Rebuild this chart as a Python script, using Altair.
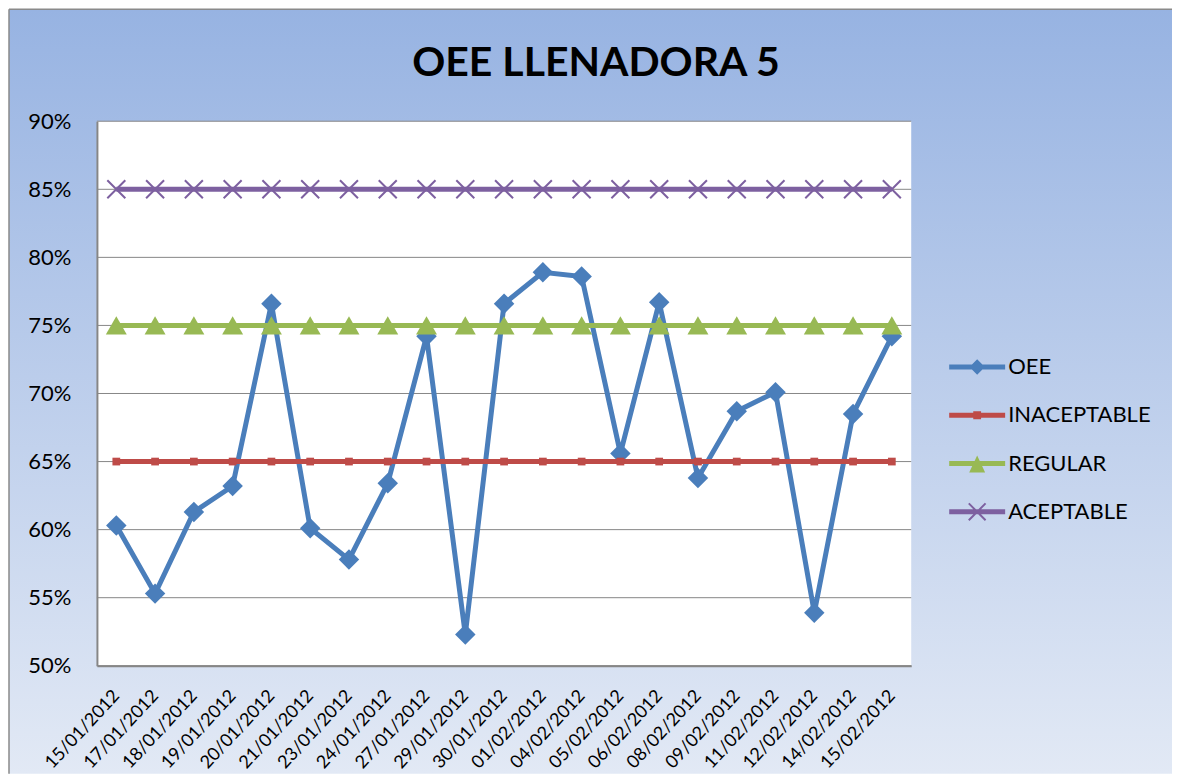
import altair as alt
import pandas as pd

dates = ["15/01/2012", "17/01/2012", "18/01/2012", "19/01/2012", "20/01/2012",
         "21/01/2012", "23/01/2012", "24/01/2012", "27/01/2012", "29/01/2012",
         "30/01/2012", "01/02/2012", "04/02/2012", "05/02/2012", "06/02/2012",
         "08/02/2012", "09/02/2012", "11/02/2012", "12/02/2012", "14/02/2012",
         "15/02/2012"]
oee = [0.603, 0.553, 0.613, 0.632, 0.766, 0.601, 0.578, 0.634, 0.742, 0.523,
       0.766, 0.789, 0.786, 0.656, 0.767, 0.638, 0.687, 0.701, 0.539, 0.685,
       0.742]
inaceptable = [0.65, 0.65, 0.65, 0.65, 0.65, 0.65, 0.65, 0.65, 0.65, 0.65, 0.65,
               0.65, 0.65, 0.65, 0.65, 0.65, 0.65, 0.65, 0.65, 0.65, 0.65]
regular = [0.75, 0.75, 0.75, 0.75, 0.75, 0.75, 0.75, 0.75, 0.75, 0.75, 0.75,
           0.75, 0.75, 0.75, 0.75, 0.75, 0.75, 0.75, 0.75, 0.75, 0.75]
aceptable = [0.85, 0.85, 0.85, 0.85, 0.85, 0.85, 0.85, 0.85, 0.85, 0.85, 0.85,
             0.85, 0.85, 0.85, 0.85, 0.85, 0.85, 0.85, 0.85, 0.85, 0.85]
series = ["OEE", "INACEPTABLE", "REGULAR", "ACEPTABLE"]
colors = ["#4A7EBB", "#BE4B48", "#98B954", "#7D60A0"]
y_ticks = [0.5, 0.55, 0.6, 0.65, 0.7, 0.75, 0.8, 0.85, 0.9]

values_by_series = [oee, inaceptable, regular, aceptable]
rows = []
for s, vals in zip(series, values_by_series):
    for d, v in zip(dates, vals):
        rows.append({"date": d, "series": s, "value": v})
df = pd.DataFrame(rows)
grid_df = pd.DataFrame({"value": y_ticks})
legend_df = pd.DataFrame({"series": series})
one_df = pd.DataFrame({"a": [0]})

W, H = 815, 545
FONT = "Lato"

yscale = alt.Scale(domain=[0.5, 0.9], nice=False, zero=False)
yaxis = alt.Axis(values=y_ticks, format=".0%", title=None, labelFont=FONT,
                 labelFontSize=22, labelColor="black", labelPadding=26,
                 ticks=False, grid=False, domainColor="#868686", domainWidth=2,
                 zindex=1)
xaxis = alt.Axis(title=None, labelAngle=-47, labelAlign="right",
                 labelBaseline="middle", labelFont=FONT, labelFontSize=18,
                 labelColor="black", labelPadding=27, labelOffset=0,
                 ticks=False, grid=False, domainColor="#868686", domainWidth=2,
                 labelOverlap=False, zindex=1)
X = alt.X("date:N", sort=dates, scale=alt.Scale(type="point", padding=0.5), axis=xaxis)
Y = alt.Y("value:Q", scale=yscale, axis=yaxis)

bg_gradient = alt.Gradient(
    gradient="linear", x1=0, y1=0, x2=0, y2=1,
    stops=[alt.GradientStop(color="#97b3e2", offset=0),
           alt.GradientStop(color="#e2e9f5", offset=1)])

bg = alt.Chart(one_df).mark_rect(color=bg_gradient).encode(
    x=alt.value(-88), x2=alt.value(W + 261), y=alt.value(-112), y2=alt.value(H + 108))
border_left = alt.Chart(one_df).mark_rule(color="#8a8a8a", strokeWidth=1.5).encode(
    x=alt.value(-88), y=alt.value(-112), y2=alt.value(H + 108))
border_top = alt.Chart(one_df).mark_rule(color="#8a8a8a", strokeWidth=1.5).encode(
    x=alt.value(-88), x2=alt.value(W + 261), y=alt.value(-112))
plot_bg = alt.Chart(one_df).mark_rect(color="white").encode(
    x=alt.value(0), x2=alt.value(W), y=alt.value(0), y2=alt.value(H))
grid = alt.Chart(grid_df).mark_rule(color="#878787", strokeWidth=1).encode(
    y=Y, x=alt.value(0), x2=alt.value(W))

marker_specs = {
    "OEE": dict(shape="diamond", size=420, filled=True),
    "INACEPTABLE": dict(shape="square", size=60, filled=True),
    "REGULAR": dict(shape="triangle-up", size=440, filled=True),
    "ACEPTABLE": dict(shape="M-1,-1L1,1M-1,1L1,-1", size=324, filled=False, strokeWidth=2),
}

layers = [bg, border_left, border_top, plot_bg, grid]
for s, c in zip(series, colors):
    base = alt.Chart(df).transform_filter(alt.datum.series == s)
    layers.append(base.mark_line(color=c, strokeWidth=5).encode(x=X, y=Y))
    spec = marker_specs[s]
    layers.append(base.mark_point(color=c, opacity=1, **spec).encode(x=X, y=Y))

bar = "M-1,-0.18L3,-0.18L3,0.18L-1,0.18Z"
legend_paths = [
    bar + " M0.45,0L1,-0.55L1.55,0L1,0.55Z",
    bar + " M0.72,-0.28L1.28,-0.28L1.28,0.28L0.72,0.28Z",
    bar + " M1,-0.57L1.57,0.64L0.43,0.64Z",
    bar + " M0.45,-0.65L1.65,0.55L1.55,0.65L0.35,-0.55Z M0.35,0.55L1.55,-0.65L1.65,-0.55L0.45,0.65Z",
]
leg = alt.Legend(title=None, orient="none", legendX=853, legendY=232,
                 labelFont=FONT, labelFontSize=22, labelColor="black",
                 symbolSize=784, symbolStrokeWidth=0, symbolOpacity=1,
                 labelOffset=31, rowPadding=23.3, padding=0)
legend_layer = alt.Chart(legend_df).mark_point(filled=True).encode(
    x=alt.value(W / 2), y=alt.value(H / 2), opacity=alt.value(0),
    color=alt.Color("series:N", sort=series,
                    scale=alt.Scale(domain=series, range=colors), legend=leg),
    shape=alt.Shape("series:N", sort=series,
                    scale=alt.Scale(domain=series, range=legend_paths), legend=leg),
)
layers.append(legend_layer)

chart = alt.layer(*layers).properties(
    width=W, height=H, padding=0,
    title=alt.TitleParams("OEE LLENADORA 5", font=FONT, fontSize=41, fontWeight="bold",
                          color="black", anchor="middle", offset=-108, dx=92,
                          baseline="alphabetic"),
).configure_view(stroke=None).configure(background="white")

chart.save("out.html", embed_options={"renderer": "svg", "actions": False})
